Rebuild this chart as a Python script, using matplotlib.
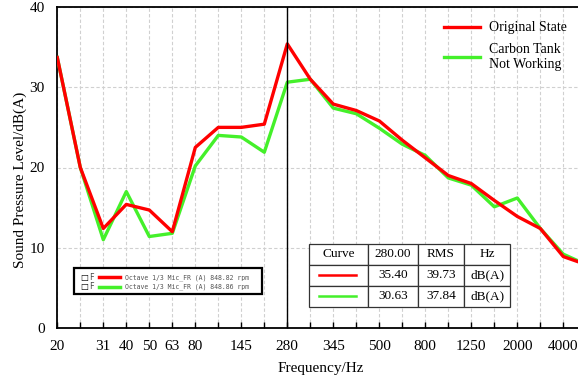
import matplotlib.pyplot as plt
from matplotlib.lines import Line2D
from matplotlib.patches import Rectangle

plt.rcParams['font.family'] = ['Liberation Serif', 'DejaVu Serif']
plt.rcParams['font.size'] = 11

# 1/3 倍频程中心频率（等间距类别轴）
tick_labels = ['20', '', '31', '40', '50', '63', '80', '', '145', '', '280', '',
               '345', '', '500', '', '800', '', '1250', '', '2000', '', '4000', '']
original = [33.7, 20.0, 12.4, 15.4, 14.7, 12.0, 22.5, 25.0, 25.0, 25.4, 35.40, 31.0,
            27.9, 27.1, 25.8, 23.4, 21.2, 19.0, 18.0, 15.9, 13.9, 12.4, 8.9, 7.9]
no_tank = [33.7, 20.0, 11.0, 17.0, 11.4, 11.8, 20.2, 24.0, 23.8, 21.9, 30.63, 31.0,
           27.4, 26.7, 24.9, 22.9, 21.5, 18.7, 17.8, 15.1, 16.2, 12.4, 9.2, 7.9]
cursor_idx = 10
table_rows = [['Curve', '280.00', 'RMS', 'Hz'],
              ['', '35.40', '39.73', 'dB(A)'],
              ['', '30.63', '37.84', 'dB(A)']]
rpm_labels = ['Octave 1/3 Mic_FR (A) 848.82 rpm',
              'Octave 1/3 Mic_FR (A) 848.86 rpm']

red = '#ff0000'
green = '#44f02a'

fig = plt.figure(figsize=(5.78, 3.81), dpi=100)
# 轴右侧超出画布，模拟原图被裁切
ax = fig.add_axes([57.3 / 578, 53 / 381, 542.7 / 578, 321 / 381])

x = list(range(len(tick_labels)))
l1, = ax.plot(x, original, color=red, lw=2.4, label='Original State', zorder=4)
l2, = ax.plot(x, no_tank, color=green, lw=2.4, label='Carbon Tank\nNot Working', zorder=3)
ax.axvline(cursor_idx, color='black', lw=1.0, zorder=5)

ax.set_xlim(0, 542.7 / 23)
ax.set_ylim(0, 40)
ax.set_xticks(x)
ax.set_xticklabels(tick_labels)
ax.set_yticks([0, 10, 20, 30, 40])
ax.tick_params(axis='x', direction='in', length=4, width=1, pad=9)
ax.tick_params(axis='y', length=0, pad=9)
ax.grid(True, color='#d0d0d0', linestyle=(0, (3, 2)), lw=0.8)
for s in ax.spines.values():
    s.set_linewidth(1.3)

ax.set_xlabel('Frequency/Hz')
ax.xaxis.set_label_coords((321 - 57.3) / 542.7, -0.105)
ax.set_ylabel('Sound Pressure Level/dB(A)')
ax.yaxis.set_label_coords(-0.056, 0.46)

# 右上角图例
ax.legend(handles=[l1, l2], loc='upper left', bbox_to_anchor=(431 / 578, 1 - 9 / 381),
          bbox_transform=fig.transFigure, frameon=False, handlelength=2.65,
          handletextpad=0.65, labelspacing=0.6, fontsize=10)

# 左下角小图例框
bx, by, bw, bh = (74 - 57.3) / 542.7, (328 - 294) / 321, 188 / 542.7, 26 / 321
ax.add_patch(Rectangle((bx, by), bw, bh, transform=ax.transAxes, fill=True,
                       facecolor='white', edgecolor='black', lw=1.6, zorder=6))
for i, (lab, col) in enumerate(zip(rpm_labels, [red, green])):
    yy = by + bh * (0.64 - 0.36 * i)
    ax.text(bx + 0.012, yy, '□', transform=ax.transAxes, fontsize=6,
            family=['DejaVu Sans'], va='center', zorder=7)
    ax.text(bx + 0.028, yy, 'F', transform=ax.transAxes, fontsize=5.5,
            family=['DejaVu Sans Mono'], color='#444444', va='center', zorder=7)
    ax.add_line(Line2D([bx + 0.046, bx + 0.084], [yy, yy], transform=ax.transAxes,
                       color=col, lw=2.5, zorder=7))
    ax.text(bx + 0.094, yy, lab, transform=ax.transAxes, fontsize=4.7,
            family=['DejaVu Sans Mono'], color='#555555', va='center', zorder=7)

# 光标读数表格
tx0, tx1 = (309 - 57.3) / 542.7, (510 - 57.3) / 542.7
ty0, ty1 = (328 - 306.7) / 321, (328 - 244) / 321
col_px = [309, 367.7, 417.7, 464.3, 510]
col_w = [(col_px[i + 1] - col_px[i]) / (510 - 309) for i in range(4)]
tab = ax.table(cellText=table_rows, colWidths=col_w, cellLoc='center',
               bbox=[tx0, ty0, tx1 - tx0, ty1 - ty0], zorder=6)
tab.auto_set_font_size(False)
for (r, c), cell in tab.get_celld().items():
    cell.set_fontsize(9.5)
    cell.set_linewidth(0.9)
    cell.set_edgecolor('#333333')
    cell.set_facecolor('white')
row_h = (ty1 - ty0) / 3
cw0 = (col_px[1] - col_px[0]) / 542.7
for i, col in enumerate([red, green]):
    yy = ty0 + row_h * (1.5 - i)
    ax.add_line(Line2D([tx0 + cw0 * 0.17, tx0 + cw0 * 0.8], [yy, yy], transform=ax.transAxes,
                       color=col, lw=1.8, zorder=7))

plt.savefig('out.png', dpi=100)
